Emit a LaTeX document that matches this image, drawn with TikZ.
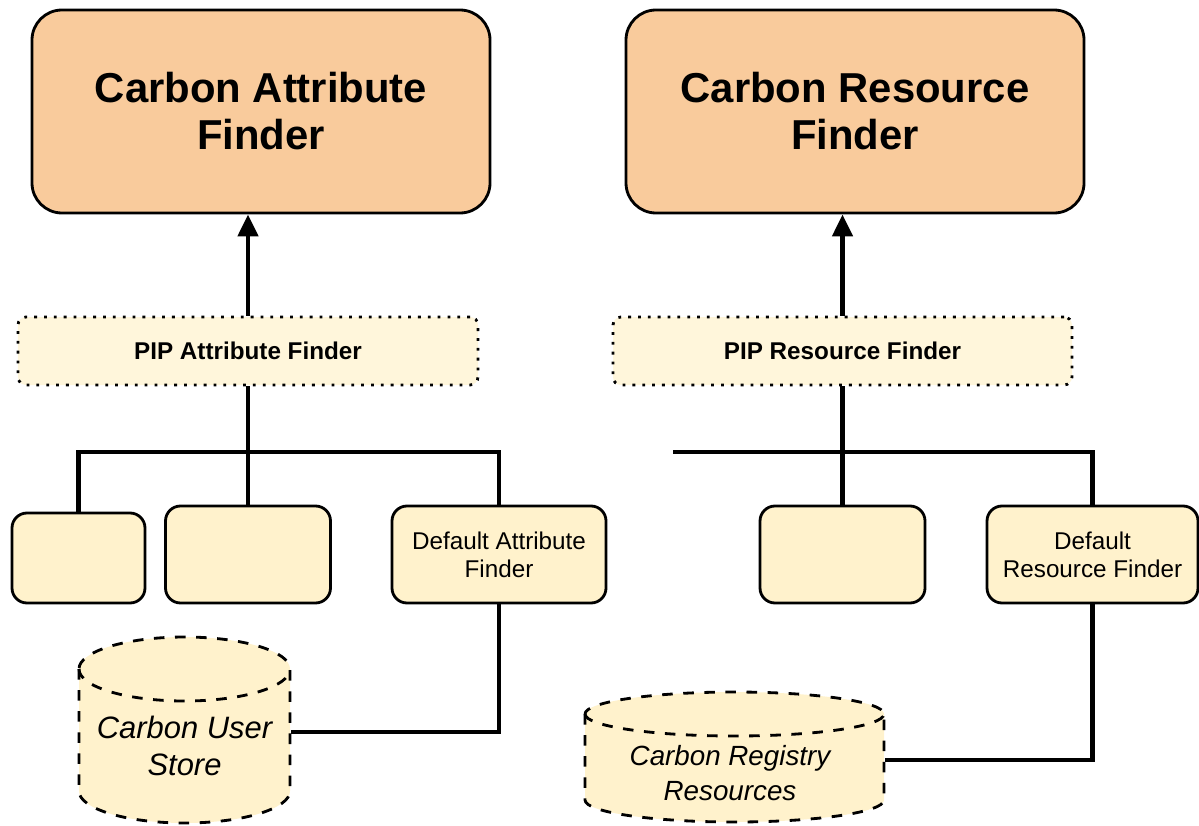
\documentclass[tikz,border=0pt]{standalone}
\usepackage{fontspec}
\setmainfont{Liberation Sans}
\usetikzlibrary{arrows.meta}

\definecolor{finderorange}{HTML}{F9CB9C}
\definecolor{findercream}{HTML}{FFF2CC}

\tikzstyle{carbon_finder}=[rectangle,draw=black,fill=finderorange,line width=0.8pt,rounded corners=0.3cm,minimum width=4.58cm,minimum height=2.03cm,align=center,font=\fontsize{11.9}{13.4}\selectfont\bfseries]
\tikzstyle{pip_finder}=[rectangle,draw=black,dotted,line width=0.8pt,fill=findercream!70,rounded corners=0.08cm,minimum height=0.68cm,font=\fontsize{6.9}{8}\selectfont\bfseries]
\tikzstyle{sub_finder}=[rectangle,draw=black,fill=findercream,line width=0.8pt,rounded corners=0.15cm,minimum height=0.97cm,align=center,font=\fontsize{6.9}{8}\selectfont]
\tikzstyle{store_text}=[align=center,inner sep=0pt]
\tikzstyle{store_body}=[draw=black,dashed,line width=0.8pt,fill=findercream]
\tikzstyle{link}=[line width=1.3pt]

\begin{document}
\begin{tikzpicture}

\useasboundingbox (0,0) rectangle (11.99,8.25);

% finders on top
\node [carbon_finder] (attrfinder) at (2.61,7.135) {Carbon Attribute\\Finder};
\node [carbon_finder] (resfinder) at (8.55,7.135) {Carbon Resource\\Finder};

\node [pip_finder,minimum width=4.6cm] (pipattr) at (2.48,4.74) {PIP Attribute Finder};
\node [pip_finder,minimum width=4.59cm] (pipres) at (8.425,4.74) {PIP Resource Finder};

\node [sub_finder,minimum width=1.33cm,minimum height=0.90cm] (attr01) at (0.785,2.67) {};
\node [sub_finder,minimum width=1.65cm] (attr02) at (2.48,2.705) {};
\node [sub_finder,minimum width=2.14cm] (defattr) at (4.99,2.705) {Default Attribute\\Finder};
\node [sub_finder,minimum width=1.65cm] (res01) at (8.425,2.705) {};
\node [sub_finder,minimum width=2.11cm] (defres) at (10.925,2.705) {Default\\Resource Finder};

% stores
\draw[store_body] (0.79,1.56) -- (0.79,0.34) arc[start angle=180,end angle=360,x radius=1.055,y radius=0.32] -- (2.90,1.56) arc[start angle=0,end angle=180,x radius=1.055,y radius=0.32] -- cycle;
\draw[store_body,fill=none] (0.79,1.56) arc[start angle=180,end angle=360,x radius=1.055,y radius=0.32];
\draw[store_body] (5.85,1.11) -- (5.85,0.25) arc[start angle=180,end angle=360,x radius=1.495,y radius=0.22] -- (8.84,1.11) arc[start angle=0,end angle=180,x radius=1.495,y radius=0.22] -- cycle;
\draw[store_body,fill=none] (5.85,1.11) arc[start angle=180,end angle=360,x radius=1.495,y radius=0.22];

\node [store_text,minimum width=2.11cm,font=\fontsize{8.8}{10.5}\selectfont\itshape] (userstore) at (1.845,0.79) {Carbon User\\Store};
\node [store_text,minimum width=3.08cm,font=\fontsize{7.9}{10.2}\selectfont\itshape] (registry) at (7.3,0.52) {Carbon Registry\\Resources};

\coordinate (busattr) at (2.48,3.73);
\coordinate (busres) at (6.73,3.73);

\draw[link,-{Triangle[length=0.22cm,width=0.2cm]}] (pipattr.north) -- (pipattr.north |- attrfinder.south);
\draw[link,-{Triangle[length=0.22cm,width=0.2cm]}] (pipres.north) -- (pipres.north |- resfinder.south);

\draw[link] (pipattr.south) -- (attr02.north);
\draw[link] (attr01.north) |- (busattr) -| (defattr.north);
\draw[link] (pipres.south) -- (res01.north);
\draw[link] (busres) -| (defres.north);

\draw[link] (defattr.south) |- ([yshift=0.14cm]userstore.east);
\draw[link] (defres.south) |- ([yshift=0.13cm]registry.east);

\end{tikzpicture}
\end{document}
